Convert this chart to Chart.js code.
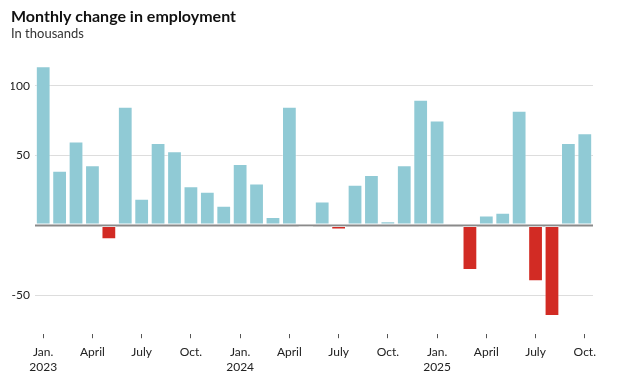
<!DOCTYPE html>
<html>
<head>
<meta charset="utf-8">
<script src="https://cdn.jsdelivr.net/npm/chart.js@4/dist/chart.umd.min.js"></script>
<style>
  html, body { margin: 0; padding: 0; background: #fff; }
  #wrap { width: 640px; height: 387px; position: relative; }
</style>
</head>
<body>
<div id="wrap"><canvas id="jobs-chart"></canvas></div>
<script>
// months Jan. 2023 .. Oct. 2025
const months = [
    'Jan.', 'Feb.', 'March', 'April', 'May', 'June', 'July', 'Aug.', 'Sept.', 'Oct.', 'Nov.', 'Dec.',
    'Jan.', 'Feb.', 'March', 'April', 'May', 'June', 'July', 'Aug.', 'Sept.', 'Oct.', 'Nov.', 'Dec.',
    'Jan.', 'Feb.', 'March', 'April', 'May', 'June', 'July', 'Aug.', 'Sept.', 'Oct.'
];

const years = [
    '2023', '', '', '', '', '', '', '', '', '', '', '',
    '2024', '', '', '', '', '', '', '', '', '', '', '',
    '2025', '', '', '', '', '', '', '', '', ''
];

// change in employment, thousands
const jobChange = [
    114, 39, 60, 43, -10, 85, 19, 59, 53, 28, 24, 14,
    44, 30, 6, 85, -2, 17, -3, 29, 36, 3, 43, 90,
    75, 0, -32, 7, 9, 82, -40, -65, 59, 66
];

const yTicks = [-50, 0, 50, 100];

const BLUE = 'rgb(144, 202, 213)';
const RED = 'rgb(210, 43, 36)';
const FONT = 'Lato, "Noto Sans", sans-serif';

const data = {
    labels: months,
    datasets: [{
        label: 'Change in employment',
        data: jobChange,
        backgroundColor: jobChange.map(v => v < 0 ? RED : BLUE),
        borderColor: 'rgba(255, 255, 255, 0.35)',
        borderWidth: 1,
        borderSkipped: false,
        categoryPercentage: 1,
        barPercentage: 0.9
    }]
};

const config = {
    type: 'bar',
    data: data,
    options: {
        responsive: true,
        maintainAspectRatio: false,
        animation: false,
        layout: { padding: { left: 11, right: 47, bottom: 6, top: 0 } },
        plugins: {
            legend: { display: false },
            tooltip: { enabled: false },
            title: {
                display: true,
                text: 'Monthly change in employment',
                align: 'start',
                color: '#111',
                font: { family: FONT, size: 16, weight: 'bold' },
                padding: { top: 7, bottom: 0 }
            },
            subtitle: {
                display: true,
                text: 'In thousands',
                align: 'start',
                color: '#333',
                font: { family: FONT, size: 13 },
                padding: { top: 0, bottom: 16 }
            }
        },
        scales: {
            x: {
                offset: true,
                border: { display: false },
                grid: {
                    drawOnChartArea: false,
                    drawTicks: true,
                    tickLength: 4,
                    tickColor: '#555',
                    offset: false
                },
                ticks: {
                    autoSkip: false,
                    maxRotation: 0,
                    padding: 7,
                    color: '#222',
                    font: { family: FONT, size: 12 },
                    callback: function (value, index) {
                        if (index % 3 !== 0) return null;
                        return years[index] ? [months[index], years[index]] : months[index];
                    }
                }
            },
            y: {
                min: -78,
                max: 120,
                border: { display: false },
                afterBuildTicks: function (axis) {
                    axis.ticks = yTicks.map(v => ({ value: v }));
                },
                afterFit: function (axis) {
                    axis.width = 24;
                },
                grid: {
                    drawTicks: false,
                    color: ctx => ctx.tick && ctx.tick.value === 0 ? '#8a8a8a' : '#dddddd',
                    lineWidth: ctx => ctx.tick && ctx.tick.value === 0 ? 1.5 : 1
                },
                ticks: {
                    padding: 5,
                    color: '#222',
                    font: { family: FONT, size: 12 },
                    callback: v => v === 0 ? '' : v
                }
            }
        }
    },
    plugins: [{
        // bars over the gridlines, zero line over the bars
        id: 'zeroLine',
        afterDatasetsDraw(chart) {
            const y = chart.scales.y.getPixelForValue(0);
            const ctx = chart.ctx;
            ctx.save();
            ctx.strokeStyle = '#8a8a8a';
            ctx.lineWidth = 1.5;
            ctx.beginPath();
            ctx.moveTo(chart.chartArea.left, y);
            ctx.lineTo(chart.chartArea.right, y);
            ctx.stroke();
            ctx.restore();
        }
    }]
};

const jobsChart = new Chart(document.getElementById('jobs-chart'), config);
</script>
</body>
</html>
